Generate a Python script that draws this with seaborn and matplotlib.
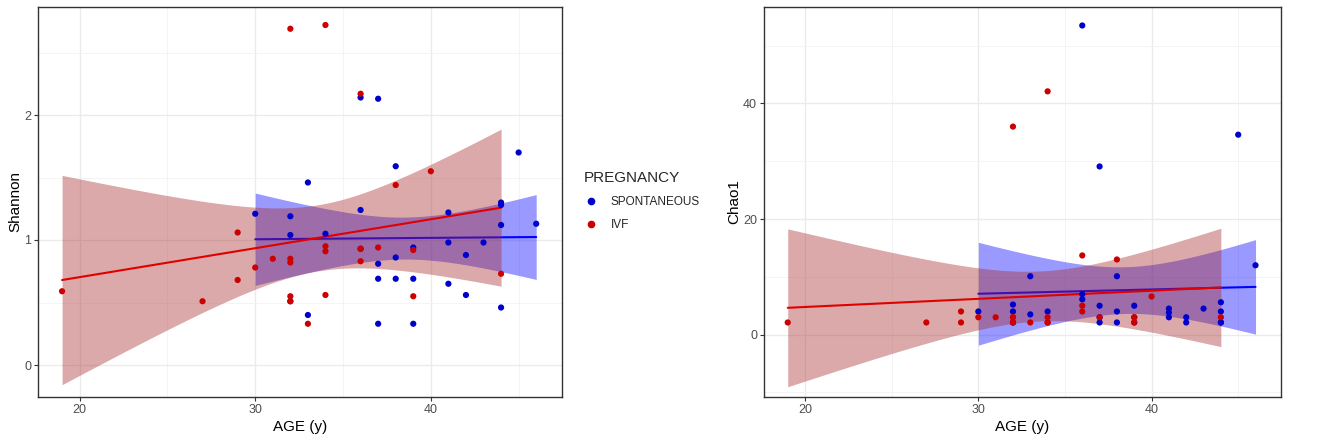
import numpy as np
import pandas as pd
import seaborn as sns
import matplotlib.pyplot as plt
from matplotlib.ticker import MultipleLocator
from matplotlib.lines import Line2D

# ---- data (a few points hidden under others are estimated) ----
spont_age = [30, 32, 32, 32, 33, 33, 34, 36, 36, 36, 37, 37, 37, 37, 38, 38, 38,
             39, 39, 39, 41, 41, 41, 42, 42, 43, 44, 44, 44, 44, 45, 46]
spont_shannon = [1.21, 1.19, 1.04, 0.51, 1.46, 0.40, 1.05, 2.14, 1.24, 0.93,
                 2.13, 0.81, 0.69, 0.33, 1.59, 0.86, 0.69, 0.94, 0.69, 0.33,
                 1.22, 0.98, 0.65, 0.88, 0.56, 0.98, 1.30, 1.28, 1.12, 0.46, 1.70, 1.13]
spont_chao1 = [4.0, 5.2, 4.0, 2.1, 10.1, 3.5, 4.0, 53.5, 7.0, 6.1,
               29.1, 5.0, 3.0, 2.1, 10.1, 4.0, 2.1, 5.0, 3.0, 2.1,
               4.5, 3.8, 3.0, 3.0, 2.1, 4.5, 5.6, 4.0, 2.1, 2.1, 34.6, 12.0]

ivf_age = [19, 27, 29, 29, 30, 31, 32, 32, 32, 32, 32, 33, 34, 34, 34, 34,
           36, 36, 36, 37, 38, 39, 39, 40, 44]
ivf_shannon = [0.59, 0.51, 1.06, 0.68, 0.78, 0.85, 2.69, 0.85, 0.82, 0.55, 0.51, 0.33,
               2.72, 0.95, 0.91, 0.56, 2.17, 0.93, 0.83, 0.94, 1.44, 0.92, 0.55, 1.55, 0.73]
ivf_chao1 = [2.1, 2.1, 4.0, 2.1, 3.0, 3.0, 36.0, 3.0, 2.1, 3.0, 2.1, 2.1,
             42.1, 3.0, 2.1, 2.1, 13.7, 5.0, 4.0, 3.0, 13.0, 3.0, 2.1, 6.6, 3.0]

groups = ["SPONTANEOUS", "IVF"]

df = pd.concat([
    pd.DataFrame({"AGE": spont_age, "Shannon": spont_shannon, "Chao1": spont_chao1,
                  "PREGNANCY": "SPONTANEOUS"}),
    pd.DataFrame({"AGE": ivf_age, "Shannon": ivf_shannon, "Chao1": ivf_chao1,
                  "PREGNANCY": "IVF"}),
], ignore_index=True)

point_col = {"SPONTANEOUS": "#0000CC", "IVF": "#CC0000"}
line_col = {"SPONTANEOUS": "#0000FF", "IVF": "#E00000"}
fill_col = {"SPONTANEOUS": "#0000FF", "IVF": "#A52A2A"}


def t975(dof):
    try:
        from scipy import stats
        return stats.t.ppf(0.975, dof)
    except ImportError:
        z = 1.959964
        return (z + (z**3 + z) / (4 * dof)
                + (5 * z**5 + 16 * z**3 + 3 * z) / (96 * dof**2)
                + (3 * z**7 + 19 * z**5 + 17 * z**3 - 15 * z) / (384 * dof**3))


def lm_band(x, y, n=80):
    # analytic 95% band of a straight-line fit (like geom_smooth(method="lm"))
    x = np.asarray(x, float)
    y = np.asarray(y, float)
    b, a = np.polyfit(x, y, 1)
    res = y - (a + b * x)
    dof = len(x) - 2
    s = np.sqrt((res ** 2).sum() / dof)
    xg = np.linspace(x.min(), x.max(), n)
    se = s * np.sqrt(1 / len(x) + (xg - x.mean()) ** 2 / ((x - x.mean()) ** 2).sum())
    fit = a + b * xg
    t = t975(dof)
    return xg, fit - t * se, fit + t * se


sns.set_style("white")
plt.rcParams["font.family"] = ["Liberation Sans", "DejaVu Sans"]

fig = plt.figure(figsize=(13.36, 4.42), dpi=100)
ax1 = fig.add_axes([38 / 1336, 45 / 442, 524 / 1336, 390 / 442])
ax2 = fig.add_axes([764 / 1336, 45 / 442, 517 / 1336, 390 / 442])


def panel(ax, col, ylim, ystep):
    for g in groups:
        d = df[df["PREGNANCY"] == g]
        xg, lo, hi = lm_band(d["AGE"], d[col])
        ax.fill_between(xg, lo, hi, color=fill_col[g], alpha=0.4, lw=0, zorder=2)
        sns.regplot(data=d, x="AGE", y=col, ax=ax, scatter=False, ci=None,
                    truncate=True,
                    line_kws={"color": line_col[g], "lw": 1.5, "zorder": 2})
    for g in groups:
        d = df[df["PREGNANCY"] == g]
        sns.scatterplot(data=d, x="AGE", y=col, ax=ax, color=point_col[g],
                        s=20, edgecolor="none", zorder=5, legend=False)
    ax.set_xlim(17.63, 47.47)
    ax.set_ylim(*ylim)
    ax.xaxis.set_major_locator(MultipleLocator(10))
    ax.xaxis.set_minor_locator(MultipleLocator(5))
    ax.yaxis.set_major_locator(MultipleLocator(ystep))
    ax.yaxis.set_minor_locator(MultipleLocator(ystep / 2))
    ax.grid(which="major", color="#EBEBEB", lw=1.0, zorder=0)
    ax.grid(which="minor", color="#F2F2F2", lw=0.6, zorder=0)
    ax.set_axisbelow(True)
    for s in ax.spines.values():
        s.set_color("#333333")
        s.set_linewidth(1.0)
    ax.tick_params(which="major", length=3, color="#333333", labelsize=9,
                   labelcolor="#4D4D4D", pad=2, bottom=True, left=True)
    ax.tick_params(which="minor", length=0)
    ax.set_xlabel("AGE (y)", fontsize=11, color="black", labelpad=3)
    ax.set_ylabel(col, fontsize=11, color="black", labelpad=1)


panel(ax1, "Shannon", (-0.256, 2.864), 1)
panel(ax2, "Chao1", (-10.8, 56.7), 20)

handles = [Line2D([], [], marker="o", ls="none", color=point_col[g], markersize=4.5)
           for g in groups]
leg = fig.legend(handles, groups, title="PREGNANCY", loc="upper left",
                 bbox_to_anchor=(573 / 1336, 1 - 160 / 442), frameon=False,
                 fontsize=8.5, title_fontsize=11, handletextpad=1.1,
                 labelspacing=0.95, handlelength=1.2)
leg._legend_box.align = "left"

fig.savefig("out.png", dpi=100)
